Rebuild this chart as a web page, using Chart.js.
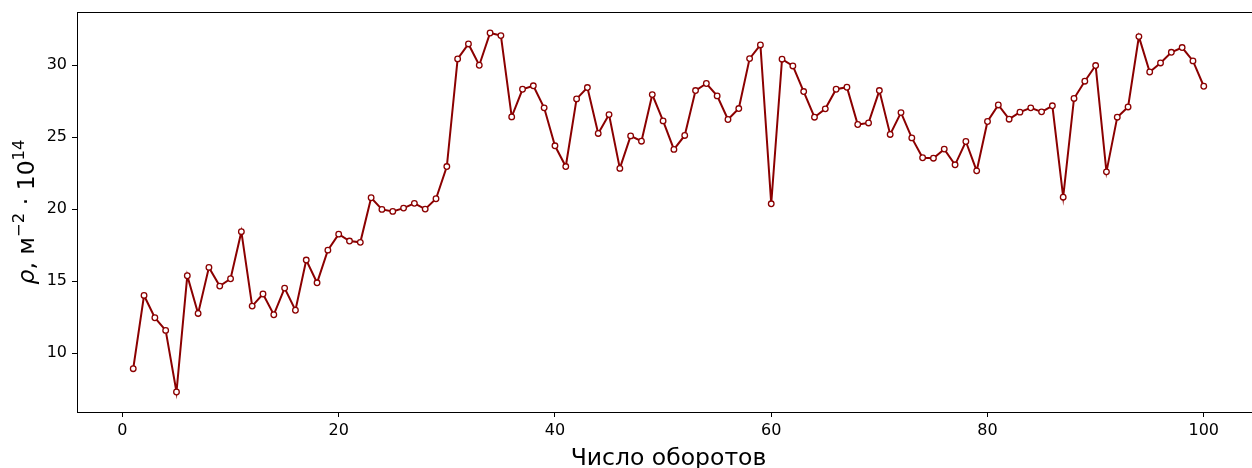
<!DOCTYPE html>
<html>
<head>
<meta charset="utf-8">
<script src="https://cdn.jsdelivr.net/npm/chart.js@4"></script>
<style>
  html, body { margin: 0; padding: 0; background: #fff; overflow: hidden; }
  #wrap { width: 1252px; height: 468px; overflow: hidden; }
  canvas { display: block; }
</style>
</head>
<body>
<!-- the original figure is cropped on the right, so the canvas is wider than the view -->
<div id="wrap"><canvas id="rhoChart" width="1262" height="468"></canvas></div>
<script>
const turns = [
  1, 2, 3, 4, 5, 6, 7, 8, 9, 10, 11, 12, 13, 14, 15, 16, 17, 18, 19, 20,
  21, 22, 23, 24, 25, 26, 27, 28, 29, 30, 31, 32, 33, 34, 35, 36, 37, 38, 39, 40,
  41, 42, 43, 44, 45, 46, 47, 48, 49, 50, 51, 52, 53, 54, 55, 56, 57, 58, 59, 60,
  61, 62, 63, 64, 65, 66, 67, 68, 69, 70, 71, 72, 73, 74, 75, 76, 77, 78, 79, 80,
  81, 82, 83, 84, 85, 86, 87, 88, 89, 90, 91, 92, 93, 94, 95, 96, 97, 98, 99, 100
];

const rho = [
  8.91, 14.00, 12.45, 11.57, 7.29, 15.37, 12.75, 15.95, 14.65, 15.16,
  18.43, 13.26, 14.10, 12.66, 14.51, 12.97, 16.46, 14.88, 17.15, 18.26,
  17.78, 17.69, 20.79, 19.98, 19.84, 20.07, 20.40, 20.00, 20.72, 22.96,
  30.44, 31.48, 30.00, 32.24, 32.06, 26.41, 28.33, 28.57, 27.04, 24.40,
  22.96, 27.66, 28.45, 25.26, 26.57, 22.83, 25.09, 24.72, 27.96, 26.13,
  24.15, 25.12, 28.24, 28.73, 27.87, 26.23, 26.99, 30.46, 31.41, 20.37,
  30.42, 29.95, 28.17, 26.39, 26.97, 28.33, 28.47, 25.88, 25.99, 28.24,
  25.19, 26.71, 24.95, 23.57, 23.54, 24.17, 23.08, 24.70, 22.66, 26.09,
  27.24, 26.25, 26.74, 27.04, 26.76, 27.18, 20.83, 27.69, 28.89, 29.98,
  22.59, 26.39, 27.10, 31.99, 29.53, 30.16, 30.90, 31.23, 30.30, 28.54
];

const xTicks = [0, 20, 40, 60, 80, 100];
const yTicks = [10, 15, 20, 25, 30];

const xTitle = 'Число оборотов';
// y title pieces: text, italic, superscript
const yTitle = [
  { text: 'ρ', italic: true },
  { text: ', м' },
  { text: '−2', sup: true },
  { text: ' · 10' },
  { text: '14', sup: true }
];

const lineColor = '#8b0000';
const fontFamily = '"DejaVu Sans", sans-serif';
const titleSize = 23.5;

// closed frame plus the two axis titles (mathtext-like y label)
const frameAndTitles = {
  id: 'frameAndTitles',
  afterDraw(chart) {
    const { ctx, chartArea: a } = chart;
    ctx.save();
    ctx.strokeStyle = '#000';
    ctx.lineWidth = 1;
    ctx.strokeRect(a.left + 0.5, a.top + 0.5, a.right - a.left - 1, a.bottom - a.top);

    ctx.fillStyle = '#000';
    ctx.textBaseline = 'alphabetic';
    ctx.textAlign = 'center';
    ctx.font = `${titleSize}px ${fontFamily}`;
    ctx.fillText(xTitle, (a.left + a.right) / 2, 465);

    const fontFor = p => `${p.italic ? 'oblique ' : ''}${p.sup ? titleSize * 0.7 : titleSize}px ${fontFamily}`;
    let total = 0;
    yTitle.forEach(p => { ctx.font = fontFor(p); total += ctx.measureText(p.text).width; });
    ctx.translate(33.5, (a.top + a.bottom) / 2);
    ctx.rotate(-Math.PI / 2);
    ctx.textAlign = 'left';
    let x = -total / 2;
    yTitle.forEach(p => {
      ctx.font = fontFor(p);
      ctx.fillText(p.text, x, p.sup ? -titleSize * 0.42 : 0);
      x += ctx.measureText(p.text).width;
    });
    ctx.restore();
  }
};

function noPadding(scale) {
  scale.paddingLeft = 0;
  scale.paddingRight = 0;
  scale.paddingTop = 0;
  scale.paddingBottom = 0;
}

const ctx = document.getElementById('rhoChart').getContext('2d');
new Chart(ctx,
{
  type: 'line',
  data:
  {
    datasets:
    [{
      data: turns.map((t, i) => ({ x: t, y: rho[i] })),
      borderColor: lineColor,
      borderWidth: 2,
      pointBackgroundColor: '#fff',
      pointBorderColor: lineColor,
      pointBorderWidth: 1.3,
      pointRadius: 2.8,
      tension: 0,
      fill: false
    }]
  },
  options:
  {
    responsive: false,
    animation: false,
    layout: { autoPadding: false, padding: { top: 12, right: 2, left: 0, bottom: 0 } },
    plugins: { legend: { display: false }, tooltip: { enabled: false } },
    scales:
    {
      x:
      {
        type: 'linear',
        min: -4.2,
        max: 105.2,
        afterBuildTicks: scale => { scale.ticks = xTicks.map(v => ({ value: v })); },
        afterFit: scale => { scale.height = 56; noPadding(scale); },
        grid: { drawOnChartArea: false, color: '#000', tickLength: 5 },
        border: { display: false },
        ticks: { color: '#000', padding: 4, maxRotation: 0, font: { family: fontFamily, size: 16 } },
        title: { display: false }
      },
      y:
      {
        min: 5.9,
        max: 33.7,
        afterBuildTicks: scale => { scale.ticks = yTicks.map(v => ({ value: v })); },
        afterFit: scale => { scale.width = 77; noPadding(scale); },
        grid: { drawOnChartArea: false, color: '#000', tickLength: 5 },
        border: { display: false },
        ticks: { color: '#000', padding: 5, font: { family: fontFamily, size: 16 } },
        title: { display: false }
      }
    }
  },
  plugins: [frameAndTitles]
});
</script>
</body>
</html>
